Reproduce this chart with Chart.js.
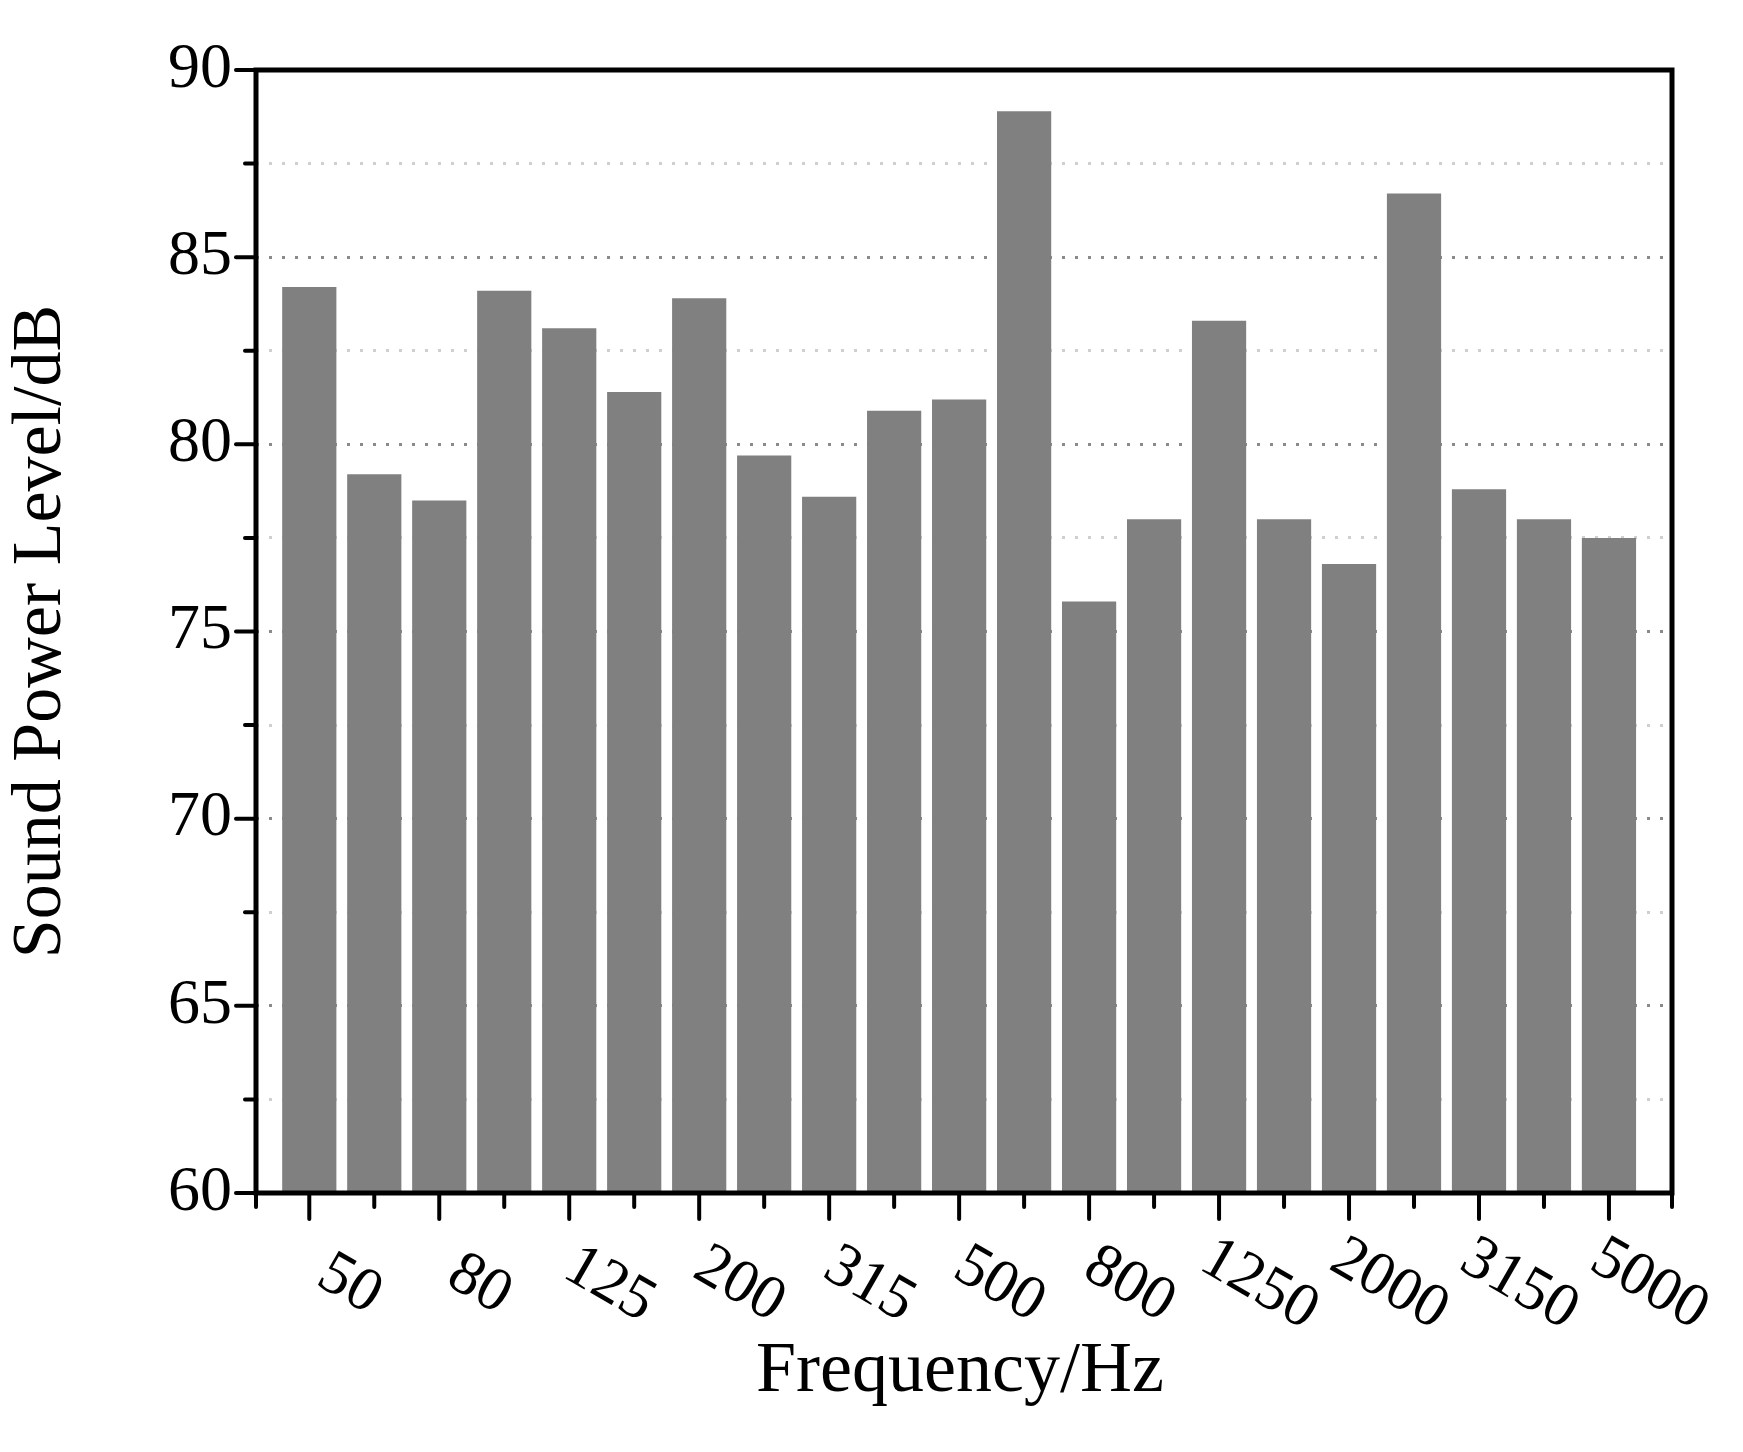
<!DOCTYPE html>
<html><head><meta charset="utf-8">
<script src="https://cdn.jsdelivr.net/npm/chart.js@4"></script>
<style>html,body{margin:0;background:#fff}#w{width:1743px;height:1452px}</style>
</head><body><div id="w"><canvas id="c"></canvas></div>
<script>
const categories = ["50","63","80","100","125","160","200","250","315","400","500","630","800","1000","1250","1600","2000","2500","3150","4000","5000"];
const values = [84.2,79.2,78.5,84.1,83.1,81.4,83.9,79.7,78.6,80.9,81.2,88.9,75.8,78.0,83.3,78.0,76.8,86.7,78.8,78.0,77.5];
const yTicks = [60,65,70,75,80,85,90];
const FONT = "'Liberation Serif','Times New Roman',serif";

const deco = {
  id:'deco',
  afterDraw(ch){
    const c=ch.ctx, a=ch.chartArea, x=ch.scales.x, y=ch.scales.y;
    c.save();
    c.strokeStyle='#000'; c.lineWidth=5;
    c.strokeRect(a.left,a.top,a.right-a.left,a.bottom-a.top);
    c.lineWidth=4; c.lineCap='round';
    for(let v=60; v<=90; v+=2.5){
      const p=y.getPixelForValue(v), L=(v%5===0)?20:11;
      c.beginPath(); c.moveTo(a.left,p); c.lineTo(a.left-L,p); c.stroke();
    }
    categories.forEach((t,i)=>{
      const p=x.getPixelForValue(i), L=(i%2===0)?26:14;
      c.beginPath(); c.moveTo(p,a.bottom); c.lineTo(p,a.bottom+L); c.stroke();
    });
    [a.left,a.right].forEach(p=>{c.beginPath(); c.moveTo(p,a.bottom); c.lineTo(p,a.bottom+14); c.stroke();});
    c.fillStyle='#000'; c.font='62px '+FONT; c.textAlign='center'; c.textBaseline='middle';
    categories.forEach((t,i)=>{
      if(i%2) return;
      const p=x.getPixelForValue(i);
      c.save(); c.translate(p+40,a.bottom+92); c.rotate(Math.PI/6); c.fillText(t,0,0); c.restore();
    });
    c.font='72px '+FONT;
    c.fillText('Frequency/Hz',960,1372);
    c.restore();
  }
};

new Chart(document.getElementById('c'),{
  type:'bar',
  data:{datasets:[{data:values.map((v,i)=>({x:i,y:v})),backgroundColor:'#808080',barPercentage:0.86,categoryPercentage:1}]},
  options:{
    responsive:true,maintainAspectRatio:false,animation:false,
    layout:{padding:{top:70,right:71,left:0,bottom:0}},
    plugins:{legend:{display:false},tooltip:{enabled:false}},
    scales:{
      x:{type:'linear',min:-0.82,max:20.97,offset:false,
        afterFit(s){s.height=259;},
        ticks:{display:false},grid:{display:false},border:{display:false}},
      y:{min:60,max:90,
        afterFit(s){s.width=256;},
        afterBuildTicks(s){const t=[];for(let v=60;v<=90;v+=2.5)t.push({value:v});s.ticks=t;},
        ticks:{padding:24,color:'#000',font:{family:FONT,size:64},
          callback:v=>yTicks.includes(v)?String(v):''},
        grid:{drawTicks:false,lineWidth:3,
          color:ctx=>{const v=ctx.tick.value; if(v===60||v===90) return 'rgba(0,0,0,0)'; return v%5===0?'#8a8a8a':'#cfcfcf';}},
        border:{display:false,dash:[3,10]},
        title:{display:true,text:'Sound Power Level/dB',color:'#000',font:{family:FONT,size:70},padding:{top:0,bottom:4}}}
    }
  },
  plugins:[deco]
});
</script></body></html>
